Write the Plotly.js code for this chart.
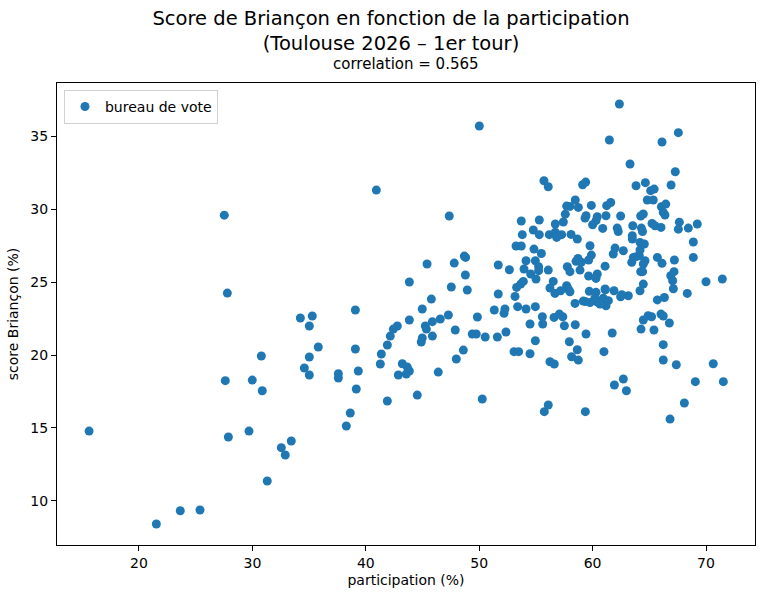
<!DOCTYPE html>
<html>
<head>
<meta charset="utf-8">
<script src="https://cdn.plot.ly/plotly-3.0.1.min.js"></script>
<style>html,body{margin:0;padding:0;background:#fff;}</style>
</head>
<body>
<div id="chart" style="width:764px;height:597px;"></div>
<script>
const chartTitle = 'Score de Briançon en fonction de la participation<br>(Toulouse 2026 – 1er tour)';
const subTitle = 'correlation = 0.565';
const seriesName = 'bureau de vote';
const xLabel = 'participation (%)';
const yLabel = 'score Briançon (%)';
const xTicks = [20, 30, 40, 50, 60, 70];
const yTicks = [10, 15, 20, 25, 30, 35];

const participation = [
15.6,21.53,23.64,25.38,27.52,27.79,27.61,27.88,29.70,29.99,30.79,30.87,31.31,32.55,32.90,33.43,
34.23,35.28,35.02,35.81,35.02,34.58,35.02,37.58,37.58,39.08,39.08,39.34,39.16,38.63,38.28,40.93,
41.90,41.28,41.37,41.90,42.16,42.43,42.78,42.87,43.22,43.66,43.84,43.57,43.84,43.84,44.54,44.98,
44.89,44.98,45.25,45.34,45.40,45.87,45.78,45.87,46.39,46.57,47.28,47.36,47.54,47.80,47.89,47.98,
48.60,48.69,48.80,48.78,48.95,49.84,49.39,49.74,50.53,50.01,50.27,51.33,51.68,51.68,51.60,
55.71,56.09,59.12,59.39,58.47,57.71,58.0,58.74,59.89,61.24,57.59,59.42,59.33,60.41,61.18,60.3,
53.71,55.30,57.42,56.71,60.0,60.89,54.77,55.30,53.80,56.18,56.71,56.83,57.27,58.1,58.65,53.25,
53.71,54.83,55.48,59.77,59.89,58.71,58.54,59.65,59.0,54.13,54.95,52.66,53.95,55.24,55.24,56.09,
57.77,58.0,58.89,61.1,54.54,55.01,59.65,60.41,60.3,53.89,56.53,53.3,53.66,56.24,57.71,57.86,
56.68,57.18,58.0,59.71,60.3,61.1,53.16,
58.45,59.33,60.36,61.18,52.27,52.19,53.39,54.13,54.95,55.57,55.6,54.48,56.6,57.07,57.37,57.51,
58.47,59.42,52.36,54.95,57.95,53.07,53.48,54.48,58.65,58.15,58.74,61.0,56.24,56.62,56.09,55.74,59.36,
59.18,59.77,60.2,60.5,60.94,61.39,60.65,
62.36,61.48,66.12,67.56,63.3,67.29,63.83,64.65,66.92,65.12,65.43,64.82,65.35,61.6,66.07,66.45,
66.23,66.38,62.47,64.24,64.47,
62.17,62.26,63.54,64.3,64.4,65.24,65.5,66.03,67.65,67.56,68.44,69.23,63.5,63.5,68.88,64.18,
64.56,61.98,62.71,61.82,64.18,64.12,68.88,65.71,66.12,67.21,63.59,63.83,63.45,64.62,64.47,64.24,
64.41,67.18,66.89,67.06,70.0,71.44,64.47,64.18,67.12,68.35,61.12,61.89,62.47,63.15,65.71,66.33,62.58,
64.47,64.9,65.2,66.03,66.23,66.77,64.27,65.41,61.73,66.23,66.23,67.38,70.64,62.71,61.92,62.98,
69.06,71.53,68.09,66.83
];

const scoreBriancon = [
14.78,8.40,9.31,9.36,29.6,24.25,18.24,14.37,14.78,18.28,19.93,17.55,11.35,13.64,13.14,14.10,
22.54,22.68,21.99,20.55,19.86,19.11,18.63,18.72,18.42,23.09,20.41,18.90,17.67,16.02,15.13,31.32,
16.84,19.38,20.07,20.69,21.30,21.78,21.99,18.63,19.40,19.17,18.90,18.70,22.40,25.01,17.25,23.16,
20.89,21.17,21.99,21.78,26.25,22.29,23.84,21.30,18.83,22.47,22.75,29.54,24.67,26.31,21.72,19.73,
20.34,26.79,26.70,25.49,24.46,22.61,21.44,21.44,21.24,35.72,16.98,23.09,26.18,24.19,21.24,
31.96,31.55,31.69,31.87,30.64,30.22,30.2,30.13,30.27,30.25,29.67,29.56,29.40,29.49,29.56,29.22,
29.2,29.27,29.13,28.99,28.94,28.69,28.58,28.26,28.26,28.26,28.43,28.07,28.26,28.28,27.96,27.48,
27.48,27.27,26.97,27.5,26.86,26.63,26.43,26.52,26.36,26.47,26.47,25.85,25.9,26.06,25.79,25.83,
26.06,25.72,25.83,26.1,25.56,25.22,25.42,25.56,25.26,25.05,25.05,24.64,24.87,24.6,24.76,24.53,
24.23,24.41,24.34,24.37,24.3,24.53,24.02,
23.54,23.68,23.66,23.38,23.16,22.86,23.32,23.16,23.32,22.63,22.13,22.13,22.58,22.81,22.63,22.01,
22.08,21.44,21.58,20.98,20.91,20.23,20.23,20.09,20.36,19.88,19.65,20.23,19.54,19.38,16.57,16.11,16.11,
23.7,23.6,23.9,23.6,23.9,23.73,23.5,
37.23,34.76,34.62,35.26,33.11,32.58,31.62,31.83,31.67,31.28,31.39,30.64,30.64,30.47,30.18,30.36,
29.79,29.61,29.54,29.54,29.68,
28.71,28.48,28.87,28.71,28.48,29.03,28.87,28.76,29.12,28.64,28.71,28.99,28.19,27.96,27.76,27.73,
27.62,27.34,27.16,26.93,27.21,26.82,26.7,26.7,26.29,26.52,26.7,26.75,26.36,26.47,26.25,25.72,
25.72,25.72,25.44,25.1,25.03,25.22,24.87,24.41,24.55,24.23,24.48,24.41,24.0,24.07,23.78,23.95,24.14,
22.4,22.7,22.63,22.81,22.68,22.2,21.78,21.72,21.51,20.71,19.66,19.33,19.40,18.35,17.94,17.55,
18.17,18.17,16.71,15.6
];

const font = 'DejaVu Sans, Verdana, sans-serif';
const W = 764, H = 597;
const L = 57, R = 755, T = 83, B = 545;

const trace = {
  type: 'scatter', mode: 'markers',
  x: participation, y: scoreBriancon,
  name: seriesName,
  marker: {color: '#1f77b4', size: 9, line: {width: 0}},
  showlegend: true
};

const layout = {
  width: W, height: H,
  paper_bgcolor: '#fff', plot_bgcolor: '#fff',
  font: {family: font, size: 14, color: '#000'},
  margin: {l: L, r: W - R, t: T, b: H - B, pad: 0},
  title: {
    text: chartTitle,
    font: {family: font, size: 19.5, color: '#000'},
    xref: 'container', yref: 'container',
    x: 391 / W, xanchor: 'center',
    y: 1 - 25 / H, yanchor: 'middle'
  },
  annotations: [{
    text: subTitle, xref: 'paper', yref: 'paper',
    x: 0.5, xanchor: 'center',
    y: 1 + (T - 64) / (B - T), yanchor: 'middle',
    showarrow: false, font: {family: font, size: 15, color: '#000'}
  }],
  xaxis: {
    range: [12.77, 74.32], tickvals: xTicks, ticktext: xTicks.map(String),
    showgrid: false, zeroline: false,
    showline: true, linecolor: '#000', linewidth: 1, mirror: true,
    ticks: 'outside', ticklen: 5, tickwidth: 1, tickcolor: '#000',
    tickfont: {family: font, size: 14, color: '#000'},
    title: {text: xLabel, font: {family: font, size: 14, color: '#000'}, standoff: 5}
  },
  yaxis: {
    range: [6.96, 38.67], tickvals: yTicks, ticktext: yTicks.map(String),
    showgrid: false, zeroline: false,
    showline: true, linecolor: '#000', linewidth: 1, mirror: true,
    ticks: 'outside', ticklen: 5, tickwidth: 1, tickcolor: '#000',
    tickfont: {family: font, size: 14, color: '#000'},
    title: {text: yLabel, font: {family: font, size: 14, color: '#000'}, standoff: 8}
  },
  legend: {
    x: 0.01, y: 0.985, xanchor: 'left', yanchor: 'top',
    bgcolor: 'rgba(255,255,255,0.8)', bordercolor: '#d0d0d0', borderwidth: 1,
    font: {family: font, size: 14, color: '#000'}
  }
};

Plotly.newPlot('chart', [trace], layout, {displayModeBar: false, staticPlot: true});
</script>
</body>
</html>
